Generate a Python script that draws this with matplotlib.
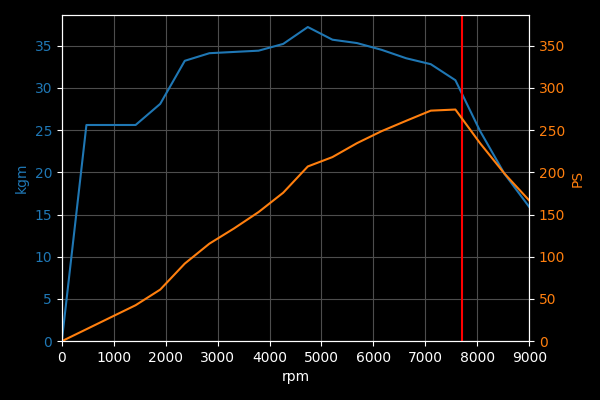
import matplotlib
matplotlib.use("Agg")
import matplotlib.pyplot as plt

plt.style.use("dark_background")

rpm = [0, 474, 947, 1421, 1895, 2368, 2842, 3316, 3789, 4263,
       4737, 5211, 5684, 6158, 6632, 7105, 7579, 8053, 8526, 9000]
torque_kgm = [0, 25.6, 25.6, 25.6, 28.1, 33.2, 34.1, 34.25, 34.4, 35.2,
              37.2, 35.7, 35.3, 34.5, 33.5, 32.8, 30.9, 24.9, 19.8, 15.9]
power_ps = [0, 14.2, 28.4, 42.6, 61.1, 91.9, 115.5, 133.5, 152.9, 175.8,
            206.9, 218.0, 234.5, 248.7, 261.0, 273.0, 274.3, 234.5, 198.3, 166.7]
redline_rpm = 7700

fig, ax1 = plt.subplots(figsize=(6, 4), dpi=100)
ax2 = ax1.twinx()

ax1.plot(rpm, torque_kgm, color="tab:blue")
ax2.plot(rpm, power_ps, color="tab:orange")
ax1.axvline(redline_rpm, color="red", linewidth=1.5)

ax1.set_xlim(0, 9000)
ax1.set_ylim(0, 38.6)
ax2.set_ylim(0, 386)

ax1.set_xlabel("rpm")
ax1.set_ylabel("kgm", color="tab:blue")
ax2.set_ylabel("PS", color="tab:orange")
ax1.tick_params(axis="y", labelcolor="tab:blue")
ax2.tick_params(axis="y", labelcolor="tab:orange")

ax1.grid(True, color="#4d4d4d", linewidth=0.8)

fig.subplots_adjust(left=0.103, right=0.882, top=0.962, bottom=0.147)
fig.savefig("out.png")
